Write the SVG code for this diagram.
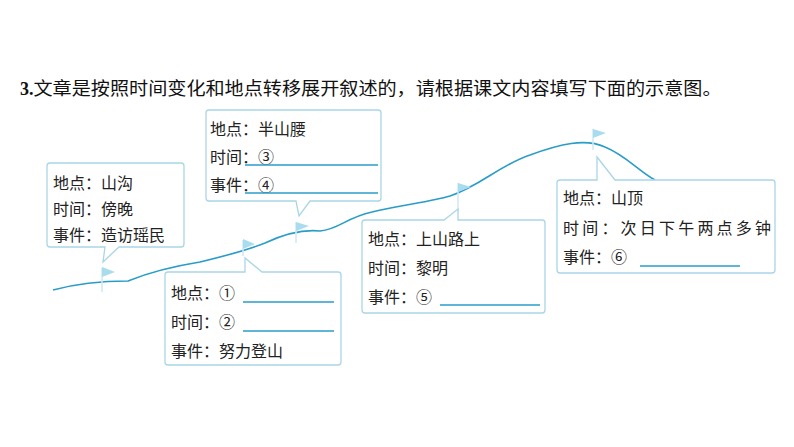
<svg xmlns="http://www.w3.org/2000/svg" width="794" height="447" viewBox="0 0 794 447">
<style>
.b{fill:#fff;stroke:#a9d6e6;stroke-width:1.3}
.t{font-family:"Liberation Serif","Noto Sans CJK SC",serif;font-size:16px;fill:#222}
.u{stroke:#2a9cc8;stroke-width:1.3}
.f{fill:#a9dcef}
.p{stroke:#cfe9f3;stroke-width:1.5}
</style>
<rect width="794" height="447" fill="#fff"/>
<text x="20" y="95" font-family="Liberation Serif,Noto Sans CJK SC,serif" font-size="18" fill="#111"><tspan font-weight="bold">3.</tspan><tspan textLength="688" lengthAdjust="spacingAndGlyphs">文章是按照时间变化和地点转移展开叙述的，请根据课文内容填写下面的示意图。</tspan></text>
<g id="connectors">
<path d="M53,290 C75,284 95,281 128,281 C150,272 175,266 200,262 C225,256 245,251 265,243 C280,236 300,229 320,231 C340,229 345,218 372,212 C400,205 430,202 450,196 C480,186 500,165 530,155 C560,144 585,138 605,147 C625,155 640,172 655,180" fill="none" stroke="#2a9cc8" stroke-width="1.6"/>
<line class="p" x1="102" y1="268" x2="102" y2="292"/><path class="f" d="M102,267 L115,272 L102,277Z"/>
<line class="p" x1="243" y1="240" x2="243" y2="256"/><path class="f" d="M243,239 L255,244 L243,249Z"/>
<line class="p" x1="296" y1="222" x2="296" y2="243"/><path class="f" d="M296,222 L309,226 L296,231Z"/>
<line class="p" x1="458" y1="183" x2="458" y2="212"/><path class="f" d="M458,183 L471,187 L458,192Z"/>
<line class="p" x1="593" y1="129" x2="593" y2="150"/><path class="f" d="M593,129 L606,133 L593,138Z"/>
</g>
<g id="nodeA">
<path class="b" d="M50,163 H181 a3,3 0 0 1 3,3 V244 a3,3 0 0 1 -3,3 H119 L103,262 L105,247 H50 a3,3 0 0 1 -3,-3 V166 a3,3 0 0 1 3,-3Z"/>
<text class="t" x="53" y="189">地点：山沟</text>
<text class="t" x="53" y="215">时间：傍晚</text>
<text class="t" x="53" y="241">事件：造访瑶民</text>
</g>
<g id="nodeB">
<path class="b" d="M209,110 H378 a3,3 0 0 1 3,3 V198 a3,3 0 0 1 -3,3 H310 L299,216 L296,201 H209 a3,3 0 0 1 -3,-3 V113 a3,3 0 0 1 3,-3Z"/>
<text class="t" x="210" y="135">地点：半山腰</text>
<text class="t" x="210" y="163">时间：③</text>
<text class="t" x="210" y="191">事件：④</text>
<line class="u" x1="245" y1="165" x2="378" y2="165"/>
<line class="u" x1="245" y1="193" x2="378" y2="193"/>
</g>
<g id="nodeC">
<path class="b" d="M168,272 H245 L245,258 L262,272 H338 a3,3 0 0 1 3,3 V362 a3,3 0 0 1 -3,3 H168 a3,3 0 0 1 -3,-3 V275 a3,3 0 0 1 3,-3Z"/>
<text class="t" x="171" y="299">地点：①</text>
<text class="t" x="171" y="328">时间：②</text>
<text class="t" x="171" y="357">事件：努力登山</text>
<line class="u" x1="243" y1="302" x2="334" y2="302"/>
<line class="u" x1="243" y1="331" x2="334" y2="331"/>
</g>
<g id="nodeD">
<path class="b" d="M365,220 H444 L458,209 L458,220 H542 a3,3 0 0 1 3,3 V310 a3,3 0 0 1 -3,3 H365 a3,3 0 0 1 -3,-3 V223 a3,3 0 0 1 3,-3Z"/>
<text class="t" x="368" y="245">地点：上山路上</text>
<text class="t" x="368" y="274">时间：黎明</text>
<text class="t" x="368" y="303">事件：⑤</text>
<line class="u" x1="440" y1="305" x2="540" y2="305"/>
</g>
<g id="nodeE">
<path class="b" d="M560,180 H597 L597,157 L615,180 H772 a3,3 0 0 1 3,3 V270 a3,3 0 0 1 -3,3 H560 a3,3 0 0 1 -3,-3 V183 a3,3 0 0 1 3,-3Z"/>
<text class="t" x="563" y="204">地点：山顶</text>
<text class="t" x="563" y="234" textLength="208" lengthAdjust="spacing">时间：次日下午两点多钟</text>
<text class="t" x="563" y="263">事件：⑥</text>
<line class="u" x1="640" y1="266" x2="740" y2="266"/>
</g>
</svg>
